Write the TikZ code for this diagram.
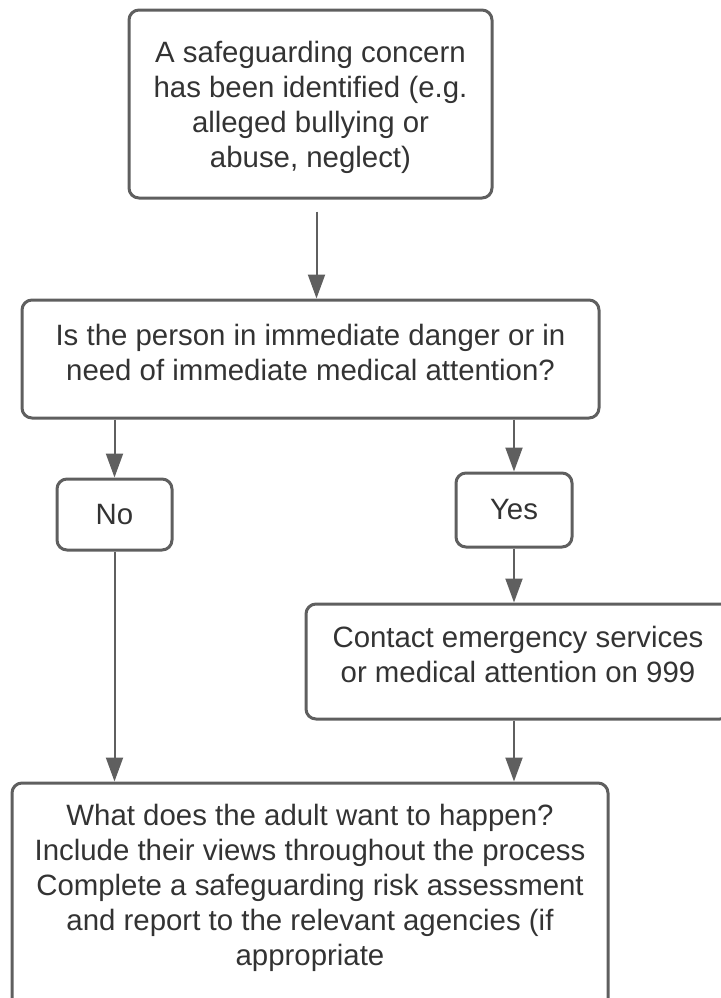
\documentclass[tikz,border=0pt]{standalone}
\usepackage{fontspec}
\setmainfont{Liberation Sans}
\usetikzlibrary{arrows.meta}
\definecolor{edgegray}{RGB}{95,95,95}
\definecolor{textgray}{RGB}{51,51,51}
\begin{document}
\begin{tikzpicture}[x=0.5pt,y=-0.5pt,
   box/.style={draw=edgegray,line width=1.5pt,rounded corners=5pt,align=center,
     text=textgray,font=\fontsize{14.7}{17.5}\selectfont,inner sep=0pt},
   arr/.style={draw=edgegray,line width=1pt,-{Triangle[length=12pt,width=8.5pt]}}]
   \useasboundingbox (0,0) rectangle (720,998);
   \node[box,minimum width=181.5pt,minimum height=94pt,text depth=0pt] (concern) at (310.5,104)
      {A safeguarding concern\\has been identified (e.g.\\alleged bullying or\\abuse, neglect)};
   \node[box,minimum width=288.5pt,minimum height=59pt,text depth=7pt] (danger) at (310.5,359)
      {Is the person in immediate danger or in\\need of immediate medical attention?};
   \node[box,minimum width=57.5pt,minimum height=35.5pt] (no) at (114.5,514.5) {No};
   \node[box,minimum width=58pt,minimum height=37pt] (yes) at (514,510) {Yes};
   \node[box,minimum width=212pt,minimum height=57.5pt,text depth=7pt] (contact) at (518,661.5)
      {Contact emergency services\\or medical attention on 999};
   \node[box,minimum width=298pt,minimum height=120pt,text depth=18pt] (adult) at (310,903)
      {What does the adult want to happen?\\Include their views throughout the process\\Complete a safeguarding risk assessment\\and report to the relevant agencies (if\\appropriate};
   \draw[arr] ([xshift=3pt,yshift=-6pt]concern.south) -- ([xshift=3pt]danger.north);
   \draw[arr] (no.north |- danger.south) -- (no.north);
   \draw[arr] (yes.north |- danger.south) -- (yes.north);
   \draw[arr] (yes.south) -- (yes.south |- contact.north);
   \draw[arr] (no.south) -- (no.south |- adult.north);
   \draw[arr] (yes.south |- contact.south) -- (yes.south |- adult.north);
\end{tikzpicture}
\end{document}
